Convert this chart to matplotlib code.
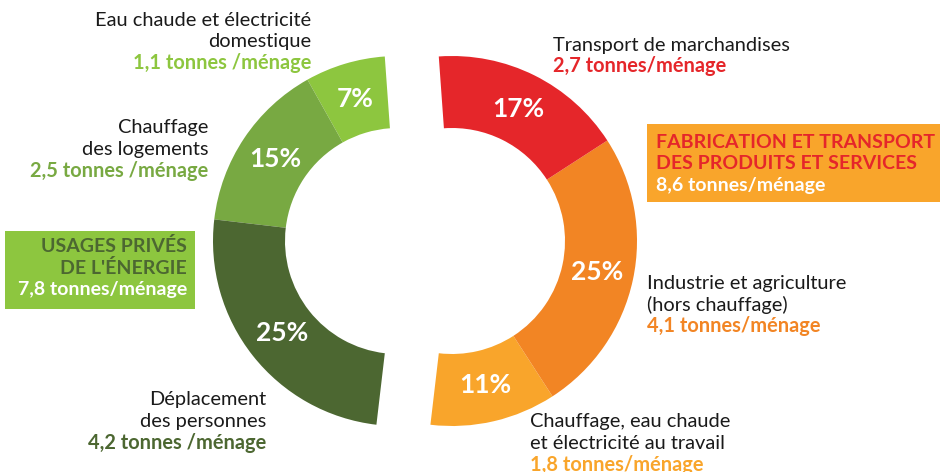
import matplotlib.pyplot as plt
from matplotlib.patches import Rectangle

W, H = 940, 472

# moitié gauche : usages privés de l'énergie (sens anti-horaire depuis le haut)
prive_noms = ["Eau chaude et électricité\ndomestique",
              "Chauffage\ndes logements",
              "Déplacement\ndes personnes"]
prive_pct = [7, 15, 25]
prive_tonnes = ["1,1 tonnes /ménage", "2,5 tonnes /ménage", "4,2 tonnes /ménage"]
prive_couleurs = ["#8DC63F", "#78A942", "#4C6731"]

# moitié droite : fabrication et transport des produits et services
prod_noms = ["Chauffage, eau chaude\net électricité au travail",
             "Industrie et agriculture\n(hors chauffage)",
             "Transport de marchandises"]
prod_pct = [11, 25, 17]
prod_tonnes = ["1,8 tonnes/ménage", "4,1 tonnes/ménage", "2,7 tonnes/ménage"]
prod_couleurs = ["#F9A52B", "#F28524", "#E5262A"]

total_prive = ["USAGES PRIVÉS", "DE L'ÉNERGIE", "7,8 tonnes/ménage"]
total_prod = ["FABRICATION ET TRANSPORT", "DES PRODUITS ET SERVICES", "8,6 tonnes/ménage"]

plt.rcParams['font.family'] = ['Lato', 'DejaVu Sans']

fig = plt.figure(figsize=(9.4, 4.72), dpi=100)
ax = fig.add_axes([0, 0, 1, 1])

R, LARGEUR = 185, 72
debut = 94.1
cy = H - 241

pct_style = dict(color='white', fontsize=19, fontweight='bold')
ax.pie([p / 100 for p in prive_pct], normalize=False, startangle=debut,
       radius=R, center=(398, cy), colors=prive_couleurs,
       autopct=lambda p: f"{p:.0f}%", pctdistance=0.8, textprops=pct_style,
       wedgeprops=dict(width=LARGEUR, linewidth=0))
ax.pie([p / 100 for p in prod_pct], normalize=False,
       startangle=debut + 3.6 * sum(prive_pct),
       radius=R, center=(452, cy), colors=prod_couleurs,
       autopct=lambda p: f"{p:.0f}%", pctdistance=0.8, textprops=pct_style,
       wedgeprops=dict(width=LARGEUR, linewidth=0))

ax.set_xlim(0, W)
ax.set_ylim(0, H)
ax.set_aspect('equal')
ax.axis('off')

FS = 14.4
PAS = 21.5


def etiquette(x, y, nom, tonnes, couleur, ha):
    lignes = nom.split("\n")
    for i, l in enumerate(lignes):
        ax.text(x, H - (y + i * PAS), l, ha=ha, va='center',
                fontsize=FS, color='#1a1a1a')
    ax.text(x, H - (y + len(lignes) * PAS), tonnes, ha=ha, va='center',
            fontsize=FS, fontweight='bold', color=couleur)


etiquette(311, 20, prive_noms[0], prive_tonnes[0], prive_couleurs[0], 'right')
etiquette(208, 128, prive_noms[1], prive_tonnes[1], prive_couleurs[1], 'right')
etiquette(266, 400, prive_noms[2], prive_tonnes[2], prive_couleurs[2], 'right')
etiquette(530, 422, prod_noms[0], prod_tonnes[0], prod_couleurs[0], 'left')
etiquette(647, 283, prod_noms[1], prod_tonnes[1], prod_couleurs[1], 'left')
etiquette(553, 45, prod_noms[2], prod_tonnes[2], prod_couleurs[2], 'left')

# encadrés des totaux
ax.add_patch(Rectangle((5, H - 309), 190, 78, facecolor=prive_couleurs[0],
                       edgecolor='none'))
for i, (t, c) in enumerate(zip(total_prive, [prive_couleurs[2], prive_couleurs[2], 'white'])):
    ax.text(187, H - (246 + i * PAS), t, ha='right', va='center',
            fontsize=14, fontweight='bold', color=c)

ax.add_patch(Rectangle((647, H - 202), 300, 78, facecolor=prod_couleurs[0],
                       edgecolor='none'))
for i, (t, c) in enumerate(zip(total_prod, [prod_couleurs[2], prod_couleurs[2], 'white'])):
    ax.text(656, H - (142 + i * PAS), t, ha='left', va='center',
            fontsize=14, fontweight='bold', color=c)

fig.savefig('out.png', dpi=100, facecolor='white')
